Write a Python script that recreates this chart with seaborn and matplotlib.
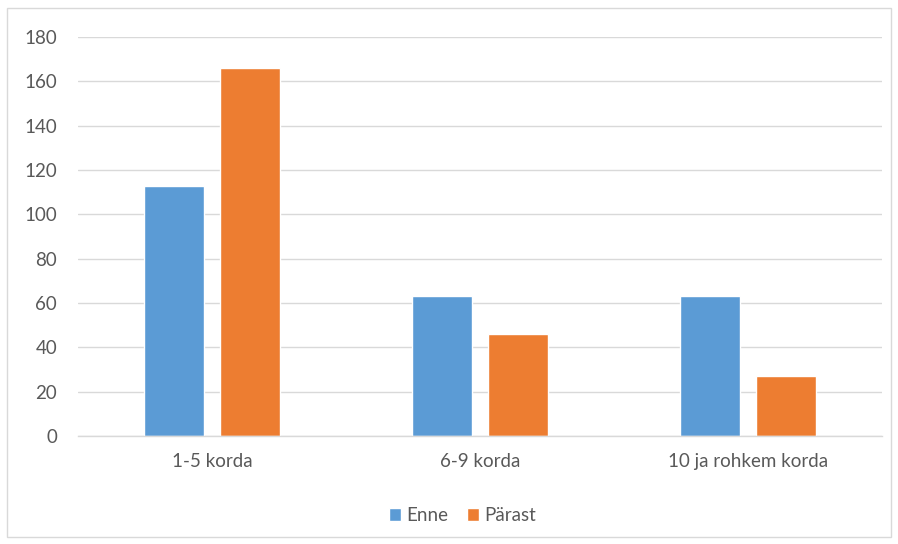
import pandas as pd
import matplotlib
matplotlib.use("Agg")
import matplotlib.pyplot as plt
import seaborn as sns
from matplotlib.patches import Rectangle

# Andmed
kategooriad = ["1-5 korda", "6-9 korda", "10 ja rohkem korda"]
enne = [113, 63, 63]
parast = [166, 46, 27]
seeriad = ["Enne", "Pärast"]

df = pd.DataFrame({
    "kategooria": kategooriad * 2,
    "seeria": ["Enne"] * 3 + ["Pärast"] * 3,
    "vaartus": enne + parast,
})

sns.set_theme(style="white")
plt.rcParams["font.family"] = ["Lato", "DejaVu Sans"]

fig = plt.figure(figsize=(8.98, 5.44), dpi=100)
ax = fig.add_axes([0.0869, 0.1985, 0.8953, 0.7335])

sns.barplot(data=df, x="kategooria", y="vaartus", hue="seeria", hue_order=seeriad,
            palette={"Enne": "#5B9BD5", "Pärast": "#ED7D31"}, saturation=1,
            width=0.567, gap=0.21, ax=ax, legend=True)

ax.set_ylim(0, 180)
ax.set_yticks(range(0, 181, 20))
ax.set_xlim(-0.5, 2.5)
ax.yaxis.grid(True, color="#D9D9D9", linewidth=1)
ax.set_axisbelow(True)
for s in ["top", "right", "left"]:
    ax.spines[s].set_visible(False)
ax.spines["bottom"].set_color("#D9D9D9")
ax.spines["bottom"].set_linewidth(1)
ax.set_xlabel("")
ax.set_ylabel("")
ax.tick_params(axis="both", length=0, labelsize=13.5, colors="#595959")
ax.tick_params(axis="x", pad=12)
ax.tick_params(axis="y", pad=15)

leg = ax.legend(loc="center", bbox_to_anchor=(0.515, 0.0515), bbox_transform=fig.transFigure,
                ncol=2, frameon=False, fontsize=13.5, handlelength=0.68, handleheight=0.68,
                handletextpad=0.28, columnspacing=0.95)
for t in leg.get_texts():
    t.set_color("#595959")

# raam ümber joonise
fig.patches.append(Rectangle((7 / 898, 7 / 544), 884 / 898, 529 / 544, transform=fig.transFigure,
                             fill=False, edgecolor="#D9D9D9", linewidth=1))

fig.savefig("out.png", dpi=100)
